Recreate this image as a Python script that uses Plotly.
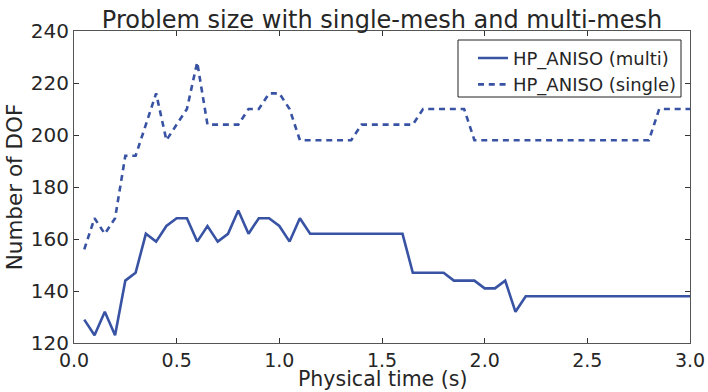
import plotly.graph_objects as go

# Physical time samples (s)
time_s = [round(0.05 * i, 2) for i in range(1, 61)]

# Degrees of freedom, multi-mesh HP_ANISO
dof_multi = [
    129, 123, 132, 123, 144, 147, 162, 159, 165, 168,
    168, 159, 165, 159, 162, 171, 162, 168, 168, 165,
    159, 168, 162, 162, 162, 162, 162, 162, 162, 162,
    162, 162, 147, 147, 147, 147, 144, 144, 144, 141,
    141, 144, 132, 138, 138, 138, 138, 138, 138, 138,
    138, 138, 138, 138, 138, 138, 138, 138, 138, 138,
]

# Degrees of freedom, single-mesh HP_ANISO
dof_single = [
    156, 168, 162, 168, 192, 192, 204, 216, 198, 204,
    210, 228, 204, 204, 204, 204, 210, 210, 216, 216,
    210, 198, 198, 198, 198, 198, 198, 204, 204, 204,
    204, 204, 204, 210, 210, 210, 210, 210, 198, 198,
    198, 198, 198, 198, 198, 198, 198, 198, 198, 198,
    198, 198, 198, 198, 198, 198, 210, 210, 210, 210,
]

x_ticks = [0.0, 0.5, 1.0, 1.5, 2.0, 2.5, 3.0]
x_tick_text = ["0.0", "0.5", "1.0", "1.5", "2.0", "2.5", "3.0"]
y_ticks = [120, 140, 160, 180, 200, 220, 240]

line_color = "#3953a4"
text_color = "#262626"
font_family = "DejaVu Sans"

fig = go.Figure()
fig.add_trace(go.Scatter(
    x=time_s, y=dof_multi, mode="lines", name="HP_ANISO (multi)",
    line=dict(color=line_color, width=2.6),
))
fig.add_trace(go.Scatter(
    x=time_s, y=dof_single, mode="lines", name="HP_ANISO (single)",
    line=dict(color=line_color, width=2.6, dash="6px,4.8px"),
))

axis_common = dict(
    showline=True, linecolor="#555555", linewidth=1.2, mirror="allticks",
    ticks="inside", ticklen=5, tickwidth=1.2, tickcolor="#333333",
    showgrid=False, zeroline=False, automargin=False,
)

fig.update_layout(
    width=708, height=392,
    margin=dict(l=74, r=18, t=31, b=49),
    paper_bgcolor="white", plot_bgcolor="white",
    font=dict(family=font_family, color=text_color),
    title=dict(
        text="Problem size with single-mesh and multi-mesh",
        x=0.5, xref="paper", xanchor="center",
        y=1.0, yref="paper", yanchor="bottom", pad=dict(b=3),
        font=dict(family=font_family, size=24, color=text_color),
    ),
    xaxis=dict(
        range=[0, 3.0], tickvals=x_ticks, ticktext=x_tick_text,
        ticklabelstandoff=0,
        tickfont=dict(family=font_family, size=19, color=text_color),
        **axis_common,
    ),
    yaxis=dict(
        range=[120, 240], tickvals=y_ticks,
        tickfont=dict(family=font_family, size=20, color=text_color),
        title=dict(text="Number of DOF", standoff=2,
                   font=dict(family=font_family, size=21.5, color=text_color)),
        **axis_common,
    ),
    legend=dict(
        x=0.6477, y=0.972, xanchor="left", yanchor="top",
        bgcolor="rgba(0,0,0,0)", borderwidth=0,
        font=dict(family=font_family, size=18, color=text_color),
        itemwidth=30, tracegroupgap=0,
    ),
    showlegend=True,
    # x-axis title placed just under the tick labels
    annotations=[dict(
        text="Physical time (s)", xref="paper", yref="paper",
        x=0.5, y=0, xanchor="center", yanchor="top", yshift=-23,
        showarrow=False, borderpad=0,
        font=dict(family=font_family, size=20.5, color=text_color),
    )],
    # legend frame
    shapes=[dict(
        type="rect", xref="paper", yref="paper",
        x0=(458 - 74) / 616, x1=(681 - 74) / 616,
        y0=(343 - 97) / 312, y1=(343 - 40) / 312,
        line=dict(color="#222222", width=1), fillcolor="white", layer="below",
    )],
)

fig.write_html("out.html")
